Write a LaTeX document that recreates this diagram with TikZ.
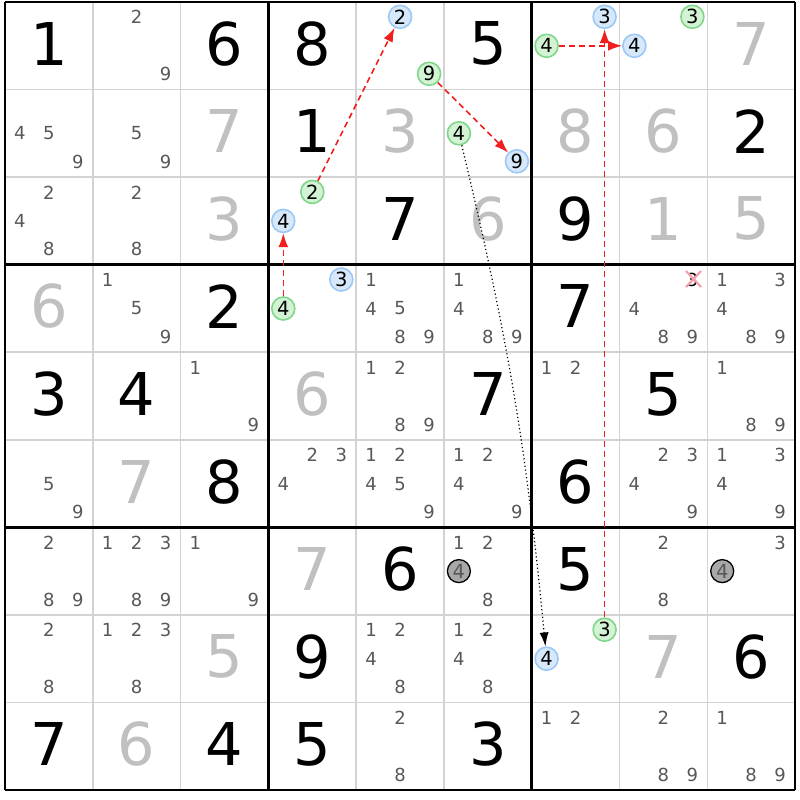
\documentclass[tikz,border=0pt]{standalone}
\usepackage{fontspec}
\setmainfont{DejaVu Sans}
\usetikzlibrary{arrows.meta}
\definecolor{candgray}{HTML}{585858}
\definecolor{solvgray}{HTML}{C0C0C0}
\definecolor{thingrid}{HTML}{D3D3D3}
\definecolor{bluefill}{HTML}{D6E8FA}
\definecolor{blueline}{HTML}{9CC8F5}
\definecolor{greenfill}{HTML}{D4F2D4}
\definecolor{greenline}{HTML}{80D68A}
\definecolor{grayfill}{HTML}{A8A8A8}
\definecolor{chainred}{HTML}{F01E1E}
\definecolor{crosspink}{HTML}{F4A0A8}
\tikzset{
  bigdigit/.style={inner sep=0pt, font=\fontsize{59}{60}\selectfont},
  canddigit/.style={inner sep=0pt, text=candgray, font=\fontsize{18}{19}\selectfont},
  marker/.style={circle, inner sep=0pt, minimum size=23pt, line width=1.6pt, font=\fontsize{19.5}{20}\selectfont},
  bluemark/.style={marker, draw=blueline, fill=bluefill},
  greenmark/.style={marker, draw=greenline, fill=greenfill},
  graymark/.style={marker, draw=black, line width=1.3pt, fill=grayfill, text=candgray},
  chainarrow/.style={draw=chainred, line width=1.6pt, dash pattern=on 6pt off 4pt, -{Latex[length=14pt,width=10pt]}},
  linkarrow/.style={draw=black, line width=1.2pt, dash pattern=on 1.2pt off 2.6pt, -{Latex[length=14pt,width=9pt]}},
  thinline/.style={draw=thingrid, line width=1.5pt},
  boxline/.style={draw=black, line width=2.6pt},
}
\begin{document}
\begin{tikzpicture}[x=1pt,y=-1pt]
\useasboundingbox (0,0) rectangle (800,800);
\fill[white] (0,0) rectangle (800,800);
% thin grid lines
\foreach \i in {1,2,4,5,7,8} {
  \draw[thinline] ({5+87.78*\i},2) -- ({5+87.78*\i},790);
  \draw[thinline] (5,{2+87.56*\i}) -- (795,{2+87.56*\i});
}
% box lines
\foreach \i in {0,3,6,9} {
  \draw[boxline] ({5+87.78*\i},2) -- ({5+87.78*\i},790);
  \draw[boxline] (5,{2+87.56*\i}) -- (795,{2+87.56*\i});
}
% big digits
\foreach \r/\c/\d/\col in {
  0/0/1/black, 0/2/6/black, 0/3/8/black, 0/5/5/black, 0/8/7/solvgray,
  1/2/7/solvgray, 1/3/1/black, 1/4/3/solvgray, 1/6/8/solvgray, 1/7/6/solvgray, 1/8/2/black,
  2/2/3/solvgray, 2/4/7/black, 2/5/6/solvgray, 2/6/9/black, 2/7/1/solvgray, 2/8/5/solvgray,
  3/0/6/solvgray, 3/2/2/black, 3/6/7/black,
  4/0/3/black, 4/1/4/black, 4/3/6/solvgray, 4/5/7/black, 4/7/5/black,
  5/1/7/solvgray, 5/2/8/black, 5/6/6/black,
  6/3/7/solvgray, 6/4/6/black, 6/6/5/black,
  7/2/5/solvgray, 7/3/9/black, 7/7/7/solvgray, 7/8/6/black,
  8/0/7/black, 8/1/6/solvgray, 8/2/4/black, 8/3/5/black, 8/5/3/black} {
  \node[bigdigit, text=\col] (big-\r-\c) at ({5+87.78*(\c+0.5)},{2+87.56*(\r+0.5)-2}) {\d};
}
% candidates
\foreach \r/\c/\L in {
  0/1/{2,9},
  1/0/{4,5,9}, 1/1/{5,9},
  2/0/{2,4,8}, 2/1/{2,8},
  3/1/{1,5,9}, 3/4/{1,4,5,8,9}, 3/5/{1,4,8,9}, 3/7/{4,8,9}, 3/8/{1,3,4,8,9},
  4/2/{1,9}, 4/4/{1,2,8,9}, 4/6/{1,2}, 4/8/{1,8,9},
  5/0/{5,9}, 5/3/{2,3,4}, 5/4/{1,2,4,5,9}, 5/5/{1,2,4,9}, 5/7/{2,3,4,9}, 5/8/{1,3,4,9},
  6/0/{2,8,9}, 6/1/{1,2,3,8,9}, 6/2/{1,9}, 6/5/{1,2,8}, 6/7/{2,8}, 6/8/{3},
  7/0/{2,8}, 7/1/{1,2,3,8}, 7/4/{1,2,4,8}, 7/5/{1,2,4,8},
  8/4/{2,8}, 8/6/{1,2}, 8/7/{2,8,9}, 8/8/{1,8,9}} {
  \foreach \d in \L {
    \pgfmathsetmacro\px{5+87.78*(\c+0.5)+29*(mod(\d-1,3)-1)}
    \pgfmathsetmacro\py{2+87.56*(\r+0.5)+28.5*(int((\d-1)/3)-1)}
    \node[canddigit] (cand-\r-\c-\d) at (\px,\py) {\d};
  }
}
% eliminated candidate
\node[canddigit, text=black] (cand-3-7-3) at (692.4,279.5) {3};
\draw[crosspink, line width=2.2pt] (686,271) -- (701,287) (701,271) -- (686,287);
% markers
\node[bluemark]  (b2top) at (400.1,16.8) {2};
\node[greenmark] (g9top) at (429.1,73.8) {9};
\node[greenmark] (g4r0)  at (546.6,45.8) {4};
\node[bluemark]  (b3r0)  at (604.6,16.8) {3};
\node[bluemark]  (b4r0)  at (634.4,45.8) {4};
\node[greenmark] (g3r0)  at (692.4,16.8) {3};
\node[greenmark] (g4r1)  at (458.9,133.3) {4};
\node[bluemark]  (b9r1)  at (516.9,161.3) {9};
\node[greenmark] (g2r2)  at (312.3,191.9) {2};
\node[bluemark]  (b4r2)  at (283.3,220.9) {4};
\node[bluemark]  (b3r3)  at (341.3,279.5) {3};
\node[greenmark] (g4r3)  at (283.3,308.5) {4};
\node[graymark]  (x4a)   at (458.9,571.1) {4};
\node[graymark]  (x4b)   at (722.2,571.1) {4};
\node[greenmark] (g3r7)  at (604.6,629.7) {3};
\node[bluemark]  (b4r7)  at (546.6,658.7) {4};
% chains
\draw[chainarrow] (g4r3) -- (b4r2);
\draw[chainarrow] (g2r2) -- (b2top);
\draw[chainarrow] (g9top) -- (b9r1);
\draw[chainarrow] (g4r0) -- (b4r0);
\draw[chainarrow] (g3r7) -- (b3r0);
\draw[linkarrow] (g4r1) to[bend left=4] (b4r7);
\end{tikzpicture}
\end{document}
